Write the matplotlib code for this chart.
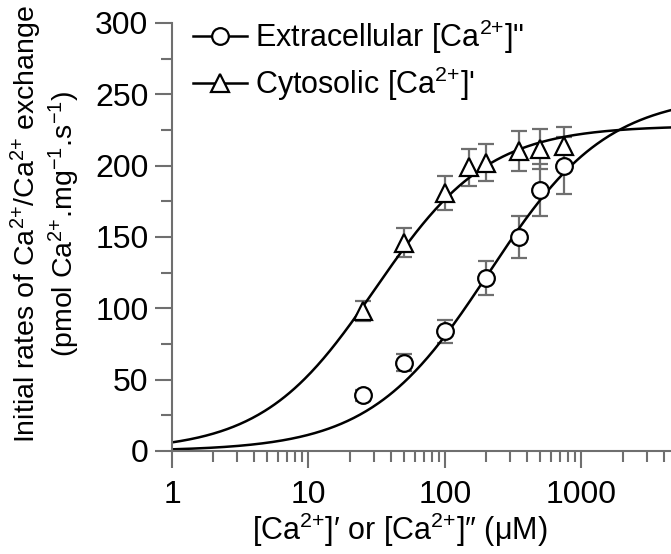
import matplotlib.pyplot as plt
import numpy as np
from matplotlib.lines import Line2D
from matplotlib.ticker import FixedLocator, NullFormatter


plt.rcParams["font.family"] = ["Liberation Sans", "DejaVu Sans"]
plt.rcParams["mathtext.fontset"] = "custom"
plt.rcParams["mathtext.rm"] = "Liberation Sans"
plt.rcParams["mathtext.it"] = "Liberation Sans:italic"
plt.rcParams["mathtext.bf"] = "Liberation Sans:bold"


extra_conc = [25, 50, 100, 200, 350, 500, 750]
extra_rate = [39, 62, 84, 121, 150, 183, 200]
extra_err = [4, 6, 8, 12, 15, 18, 20]

cyto_conc = [25, 50, 100, 150, 200, 350, 500, 750]
cyto_rate = [98, 146, 181, 199, 202, 210, 212, 214]
cyto_err = [7, 10, 12, 13, 13, 14, 14, 13]

# Hill fit parameters for the drawn curves: Vmax, K, n
extra_fit = [250, 210, 1.0]
cyto_fit = [228, 31, 1.05]

x_ticks = [1, 10, 100, 1000]
y_ticks = [0, 50, 100, 150, 200, 250, 300]


def hill(x, vmax, k, n):
    return vmax * x**n / (k**n + x**n)


axis_grey = "#6f6f6f"
ca = "Ca$^{2{+}}$"

fig = plt.figure(figsize=(6.71, 5.54), dpi=100)
ax = fig.add_axes([172 / 671, 103 / 554, 499 / 671, 428 / 554])

x_curve = np.logspace(0, np.log10(4600), 400)
ax.plot(x_curve, hill(x_curve, *extra_fit), color="black", lw=1.8, zorder=2)
ax.plot(x_curve, hill(x_curve, *cyto_fit), color="black", lw=1.8, zorder=2)

err_style = dict(
    fmt="none",
    ecolor=axis_grey,
    elinewidth=1.6,
    capsize=6,
    capthick=1.6,
    zorder=1,
)
ax.errorbar(extra_conc, extra_rate, yerr=extra_err, **err_style)
ax.errorbar(cyto_conc, cyto_rate, yerr=cyto_err, **err_style)

marker_style = dict(
    linestyle="none",
    markerfacecolor="white",
    markeredgecolor="black",
    markeredgewidth=1.6,
    zorder=3,
)
ax.plot(extra_conc, extra_rate, marker="o", markersize=12, **marker_style)
ax.plot(cyto_conc, cyto_rate, marker="^", markersize=13.5, **marker_style)

ax.set_xscale("log")
ax.set_xlim(1, 4530)
ax.set_ylim(0, 300)

ax.xaxis.set_major_locator(FixedLocator(x_ticks))
ax.set_xticklabels([str(t) for t in x_ticks])
minor_x = [m * 10**d for d in range(0, 4) for m in range(2, 10)]
ax.xaxis.set_minor_locator(FixedLocator(minor_x))
ax.xaxis.set_minor_formatter(NullFormatter())

ax.yaxis.set_major_locator(FixedLocator(y_ticks))
ax.yaxis.set_minor_locator(FixedLocator(np.arange(25, 300, 50)))

for side in ["top", "right"]:
    ax.spines[side].set_visible(False)
for side in ["left", "bottom"]:
    ax.spines[side].set_color(axis_grey)
    ax.spines[side].set_linewidth(1.5)

ax.tick_params(
    which="major", direction="out", length=12, width=1.5,
    color=axis_grey, labelsize=23, labelcolor="black",
)
ax.tick_params(which="minor", direction="out", length=8, width=1.5, color=axis_grey)
ax.tick_params(axis="x", which="major", pad=9)
ax.tick_params(axis="y", which="major", pad=5)

ax.set_xlabel(f"[{ca}]′ or [{ca}]″ (μM)", fontsize=22, va="center")
ax.xaxis.set_label_coords(0.457, -0.185)

ax.set_ylabel(
    f"Initial rates of {ca}/{ca} exchange\n"
    f"(pmol {ca}.mg$^{{-1}}$.s$^{{-1}}$)",
    fontsize=20.5, linespacing=1.1, va="center",
)
ax.yaxis.set_label_coords(-0.2545, 0.53)

handles = [
    Line2D([], [], color="black", lw=1.8, marker="o", markersize=12,
           markerfacecolor="white", markeredgecolor="black", markeredgewidth=1.6),
    Line2D([], [], color="black", lw=1.8, marker="^", markersize=13.5,
           markerfacecolor="white", markeredgecolor="black", markeredgewidth=1.6),
]
labels = [
    f'Extracellular [{ca}]"',
    f"Cytosolic [{ca}]'",
]
ax.legend(
    handles, labels,
    loc="upper left",
    bbox_to_anchor=(0.0, 1.063),
    frameon=False,
    fontsize=22,
    handlelength=1.75,
    handletextpad=0.28,
    labelspacing=0.3,
    borderaxespad=0.3,
)

fig.savefig("out.png", dpi=100)
plt.close(fig)
